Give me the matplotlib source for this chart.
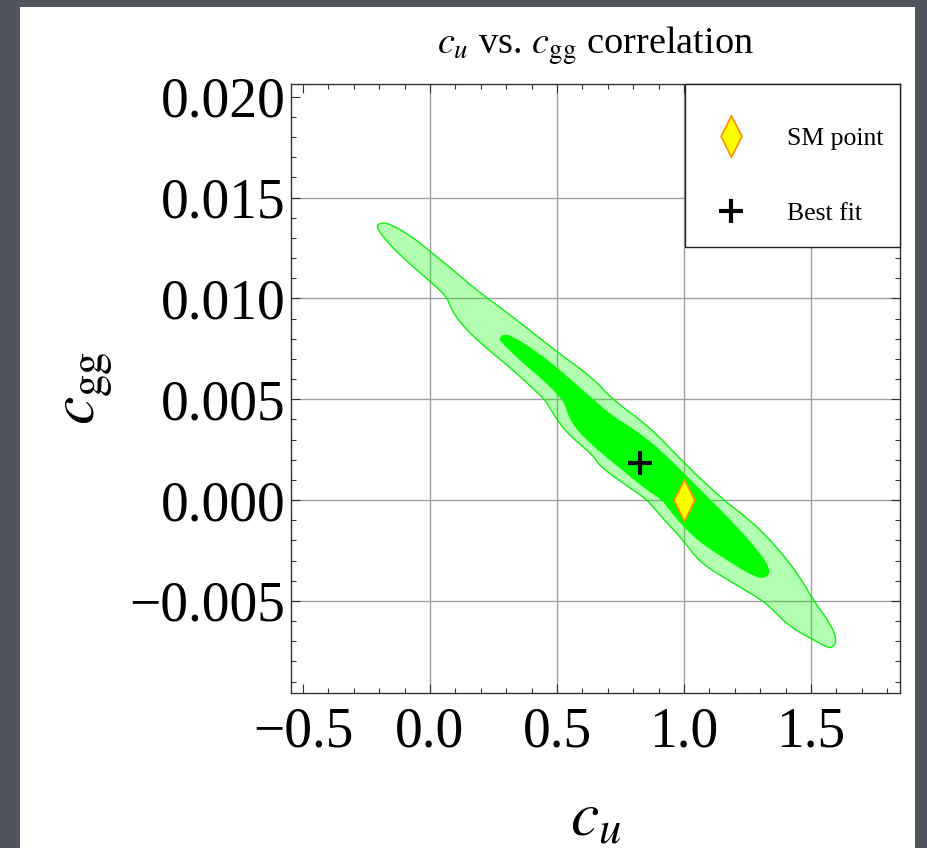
import matplotlib
matplotlib.use("Agg")
import matplotlib.pyplot as plt
from matplotlib.patches import Rectangle, PathPatch
from matplotlib.lines import Line2D
from matplotlib.ticker import MultipleLocator, FixedLocator, FixedFormatter
from matplotlib.path import Path

plt.rcParams['font.family'] = ['Liberation Serif', 'DejaVu Serif']
plt.rcParams['mathtext.fontset'] = 'stix'

# ---------------- data ----------------
outer_x = [-0.209, -0.205, -0.185, -0.157, -0.067, 0.008, 0.091, 0.146, 0.224, 0.327,
           0.500, 0.642, 0.720, 0.866, 0.996, 1.154, 1.260, 1.366, 1.457, 1.508,
           1.575, 1.602, 1.587, 1.567, 1.496, 1.417, 1.350, 1.307, 1.193, 1.063,
           0.996, 0.933, 0.878, 0.854, 0.799, 0.669, 0.642, 0.551, 0.500, 0.461,
           0.441, 0.327, 0.197, 0.118, 0.079, 0.067, 0.008, -0.106, -0.169]
outer_y = [0.01349, 0.01369, 0.01374, 0.01369, 0.01304, 0.01225, 0.01141, 0.01081, 0.01002, 0.00908,
           0.00734, 0.00605, 0.00496, 0.00362, 0.00188, 0.00000, -0.00099, -0.00233, -0.00382, -0.00496,
           -0.00610, -0.00694, -0.00729, -0.00734, -0.00684, -0.00630, -0.00546, -0.00496, -0.00412, -0.00312,
           -0.00198, -0.00114, -0.00035, 0.00000, 0.00050, 0.00164, 0.00223, 0.00317, 0.00397, 0.00481,
           0.00511, 0.00645, 0.00779, 0.00878, 0.00957, 0.01007, 0.01076, 0.01200, 0.01280]

inner_x = [0.276, 0.287, 0.315, 0.421, 0.524, 0.630, 0.720, 0.807, 0.906, 1.012,
           1.091, 1.193, 1.299, 1.339, 1.327, 1.287, 1.169, 1.035, 0.933, 0.917,
           0.854, 0.748, 0.610, 0.551, 0.531, 0.512, 0.461, 0.354, 0.276]
inner_y = [0.00804, 0.00818, 0.00818, 0.00734, 0.00630, 0.00511, 0.00412, 0.00347, 0.00248, 0.00114,
           0.00015, -0.00114, -0.00263, -0.00347, -0.00382, -0.00387, -0.00298, -0.00184, -0.00035, 0.00000,
           0.00050, 0.00159, 0.00303, 0.00397, 0.00481, 0.00511, 0.00580, 0.00694, 0.00789]

sm_point = (1.0, 0.0)
best_fit = (0.827, 0.00184)

xticks = [-0.5, 0.0, 0.5, 1.0, 1.5]
xtick_labels = ['\u22120.5', '0.0', '0.5', '1.0', '1.5']
yticks = [-0.005, 0.0, 0.005, 0.010, 0.015, 0.020]
ytick_labels = ['\u22120.005', '0.000', '0.005', '0.010', '0.015', '0.020']
grid_x = [0.0, 0.5, 1.0, 1.5]
grid_y = [-0.005, 0.0, 0.005, 0.010, 0.015]
legend_labels = ['SM point', 'Best fit']
title = r'$c_u$ vs. $c_{\rm gg}$ correlation'
xlabel = r'$c_u$'
ylabel = r'$c_{\rm gg}$'
xlim = (-0.547, 1.850)
ylim = (-0.00957, 0.02063)


def smooth_closed_path(xs, ys):
    """Closed quadratic-Bezier path using the given vertices as control points."""
    pts = list(zip(xs, ys))
    n = len(pts)
    mids = [((pts[i][0] + pts[(i + 1) % n][0]) / 2, (pts[i][1] + pts[(i + 1) % n][1]) / 2)
            for i in range(n)]
    verts = [mids[-1]]
    codes = [Path.MOVETO]
    for i in range(n):
        verts += [pts[i], mids[i]]
        codes += [Path.CURVE3, Path.CURVE3]
    verts.append(mids[-1])
    codes.append(Path.CLOSEPOLY)
    return Path(verts, codes)


# ---------------- figure ----------------
W, H = 927, 848
fig = plt.figure(figsize=(W / 100, H / 100), dpi=100)
fig.patch.set_facecolor('#50545c')
fig.patches.append(Rectangle((20 / W, 0), (915 - 20) / W, (H - 7) / H,
                             transform=fig.transFigure, facecolor='white',
                             edgecolor='none', zorder=-10))

ax = fig.add_axes([291 / W, (H - 693) / H, 609 / W, 609 / H])
ax.set_zorder(1)
ax.set_facecolor('white')
ax.set_xlim(*xlim)
ax.set_ylim(*ylim)

for gx in grid_x:
    ax.axvline(gx, color='#a0a0a0', lw=1.0, zorder=1)
for gy in grid_y:
    ax.axhline(gy, color='#a0a0a0', lw=1.0, zorder=1)

outer_path = smooth_closed_path(outer_x, outer_y)
inner_path = smooth_closed_path(inner_x, inner_y)
ax.add_patch(PathPatch(outer_path, facecolor=(0, 1, 0, 0.3), edgecolor='none', zorder=2))
ax.add_patch(PathPatch(outer_path, facecolor='none', edgecolor='#11ee11', lw=1.0, zorder=2.5))
ax.add_patch(PathPatch(inner_path, facecolor='#00ff00', edgecolor='#00ff00', lw=0.5, zorder=3))

diamond = Path([(0, 1), (0.5, 0), (0, -1), (-0.5, 0), (0, 1)],
               [Path.MOVETO, Path.LINETO, Path.LINETO, Path.LINETO, Path.CLOSEPOLY])
ax.plot([best_fit[0]], [best_fit[1]], linestyle='none', marker='+', markersize=17,
        mew=3.0, color='black', zorder=5)
ax.plot([sm_point[0]], [sm_point[1]], linestyle='none', marker=diamond, markersize=30,
        markerfacecolor='#ffff00', markeredgecolor='#ff8c00', mew=1.2, zorder=6)

# ticks
ax.xaxis.set_major_locator(FixedLocator(xticks))
ax.xaxis.set_major_formatter(FixedFormatter(xtick_labels))
ax.yaxis.set_major_locator(FixedLocator(yticks))
ax.yaxis.set_major_formatter(FixedFormatter(ytick_labels))
ax.xaxis.set_minor_locator(MultipleLocator(0.1))
ax.yaxis.set_minor_locator(MultipleLocator(0.001))
ax.tick_params(which='both', direction='in', top=True, right=True, color='#333333', width=0.8)
ax.tick_params(which='major', length=6.5)
ax.tick_params(which='minor', length=3.6)
ax.tick_params(axis='x', which='major', labelsize=40, pad=9.5)
ax.tick_params(axis='y', which='major', labelsize=40, pad=4)
for sp in ax.spines.values():
    sp.set_color('#333333')
    sp.set_linewidth(1.0)
    sp.set_zorder(8)

# labels
ax.set_title(title, fontsize=27.5, y=1.049, pad=0)
ax.set_xlabel(xlabel, fontsize=46)
ax.xaxis.set_label_coords(0.5, (693 - 820) / 609)
ax.xaxis.label.set_verticalalignment('center')
ax.set_ylabel(ylabel, fontsize=46)
ax.yaxis.set_label_coords((86 - 291) / 609, 0.5)
ax.yaxis.label.set_verticalalignment('center')
ax.yaxis.label.set_horizontalalignment('center')

# legend box
ax.add_patch(Rectangle(((685 - 291) / 609, (693 - 247) / 609), (900 - 685) / 609, (247 - 84) / 609,
                       transform=ax.transAxes, facecolor='white', edgecolor='#222222',
                       lw=1.0, zorder=9, clip_on=False))
handles = [Line2D([], [], linestyle='none', marker=diamond, markersize=30,
                  markerfacecolor='#ffff00', markeredgecolor='#ff8c00', mew=1.2),
           Line2D([], [], linestyle='none', marker='+', markersize=17, mew=3.0, color='black')]
leg = ax.legend(handles, legend_labels, loc='center left', frameon=False,
                bbox_to_anchor=((707.5 - 291) / 609, (693 - 176) / 609),
                borderpad=0, borderaxespad=0, handlelength=1.8, handletextpad=1.3,
                labelspacing=2.04, fontsize=18.5)
leg.set_zorder(10)

fig.savefig('out.png', dpi=100, facecolor=fig.get_facecolor())
